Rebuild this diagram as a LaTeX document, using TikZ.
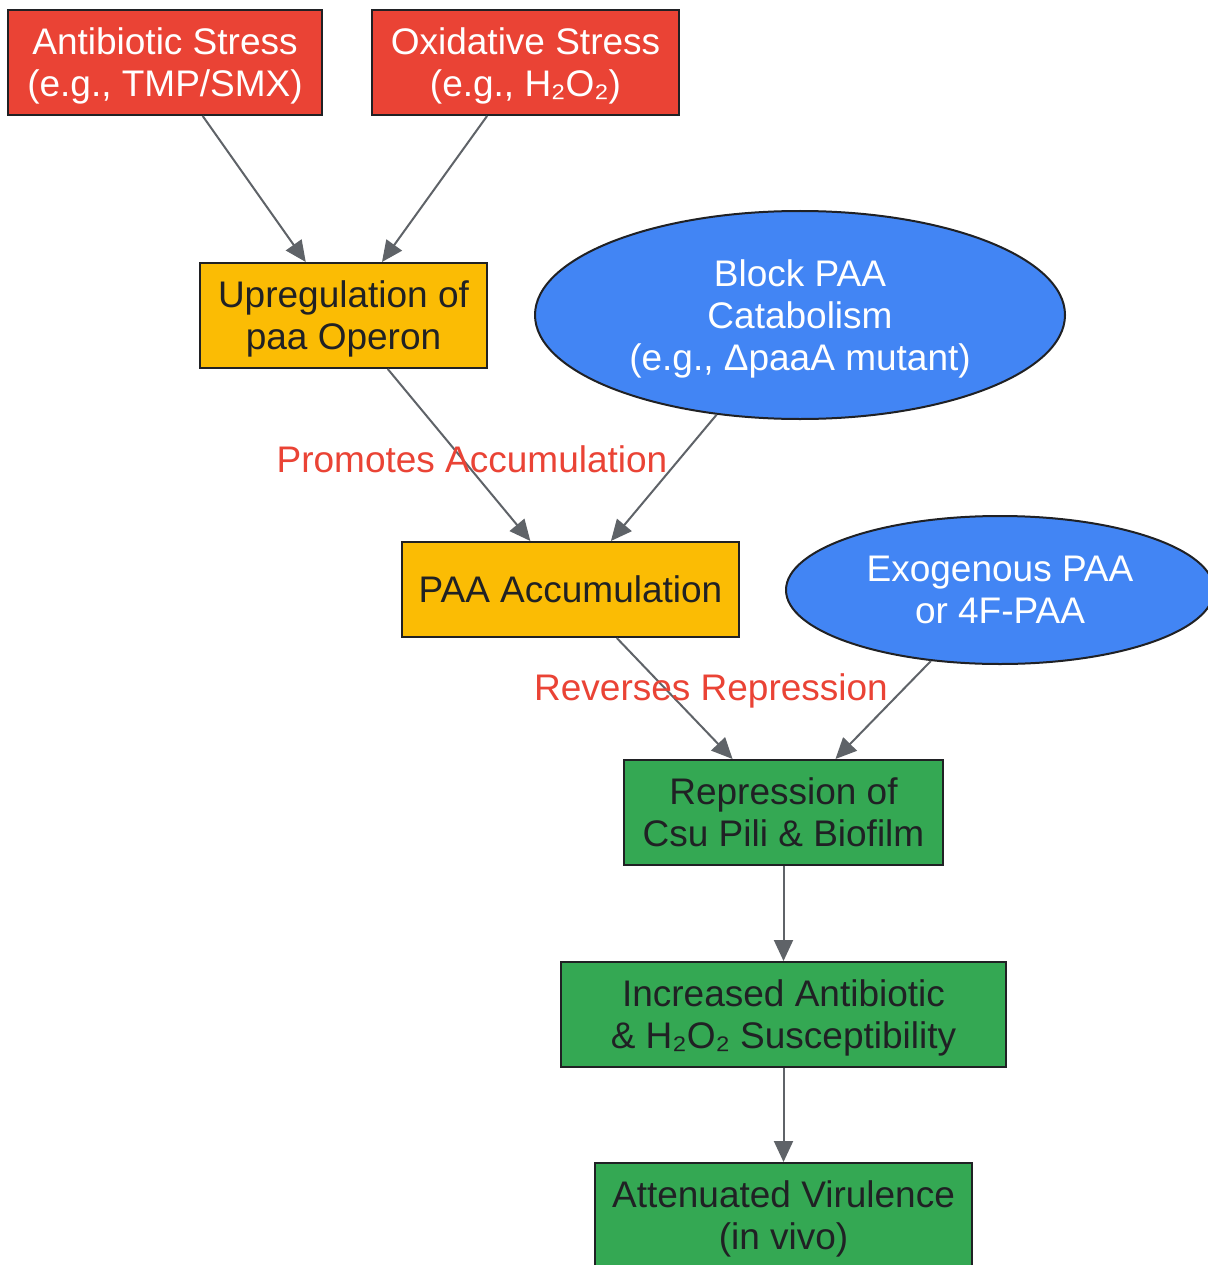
\documentclass[tikz,border=0pt]{standalone}
\usepackage{fontspec}
\setmainfont{Liberation Sans}
\usetikzlibrary{shapes.geometric,arrows.meta}
\definecolor{gred}{HTML}{EA4335}
\definecolor{gyellow}{HTML}{FBBC04}
\definecolor{gblue}{HTML}{4285F4}
\definecolor{ggreen}{HTML}{34A853}
\definecolor{gdark}{HTML}{202124}
\definecolor{ggray}{HTML}{5F6368}
\tikzset{
  base/.style={draw=gdark, line width=2pt, inner sep=0pt, align=center,
    text depth=-4pt, font=\fontsize{37}{42}\selectfont},
  redbox/.style={base, rectangle, fill=gred, text=white, minimum height=105pt},
  yellowbox/.style={base, rectangle, fill=gyellow, text=gdark},
  greenbox/.style={base, rectangle, fill=ggreen, text=gdark, minimum height=105pt},
  blueell/.style={base, ellipse, fill=gblue, text=white},
  conn/.style={draw=ggray, line width=2pt, -{Triangle[length=21pt,width=19pt]}},
  elabel/.style={text=gred, font=\fontsize{37}{42}\selectfont, inner sep=0pt}
}
\begin{document}
\begin{tikzpicture}[x=1pt,y=-1pt]
\fill[white] (0,0) rectangle (1207,1265);
\useasboundingbox (0,0) rectangle (1207,1265);

\node[redbox, minimum width=314pt] (abx) at (165,62.5) {Antibiotic Stress\\(e.g., TMP/SMX)};
\node[redbox, minimum width=307pt] (oxs) at (525.5,62.5) {Oxidative Stress\\(e.g., H₂O₂)};
\node[yellowbox, minimum width=287pt, minimum height=105pt] (upr) at (343.5,315.5) {Upregulation of\\paa Operon};
\node[blueell, minimum width=530pt, minimum height=208pt] (blk) at (800,315) {Block PAA\\Catabolism\\(e.g., ΔpaaA mutant)};
\node[yellowbox, minimum width=337pt, minimum height=95pt] (acc) at (570.5,589.5) {PAA Accumulation};
\node[blueell, minimum width=428pt, minimum height=148pt] (exo) at (1000,590) {Exogenous PAA\\or 4F-PAA};
\node[greenbox, minimum width=319pt] (rep) at (783.5,812.5) {Repression of\\Csu Pili \& Biofilm};
\node[greenbox, minimum width=445pt] (sus) at (783.5,1014.5) {Increased Antibiotic\\\& H₂O₂ Susceptibility};
\node[greenbox, minimum width=377pt] (att) at (783.5,1215.5) {Attenuated Virulence\\(in vivo)};

\draw[conn] (abx) -- (upr);
\draw[conn] (oxs) -- (upr);
\draw[conn] (upr) -- (acc);
\draw[conn] (blk) -- (acc);
\draw[conn] (acc) -- (rep);
\draw[conn] (exo) -- (rep);
\draw[conn] (rep) -- (sus);
\draw[conn] (sus) -- (att);

\node[elabel] (lpro) at (472,459) {Promotes Accumulation};
\node[elabel] (lrev) at (711,691) {Reverses Repression};
\end{tikzpicture}
\end{document}
